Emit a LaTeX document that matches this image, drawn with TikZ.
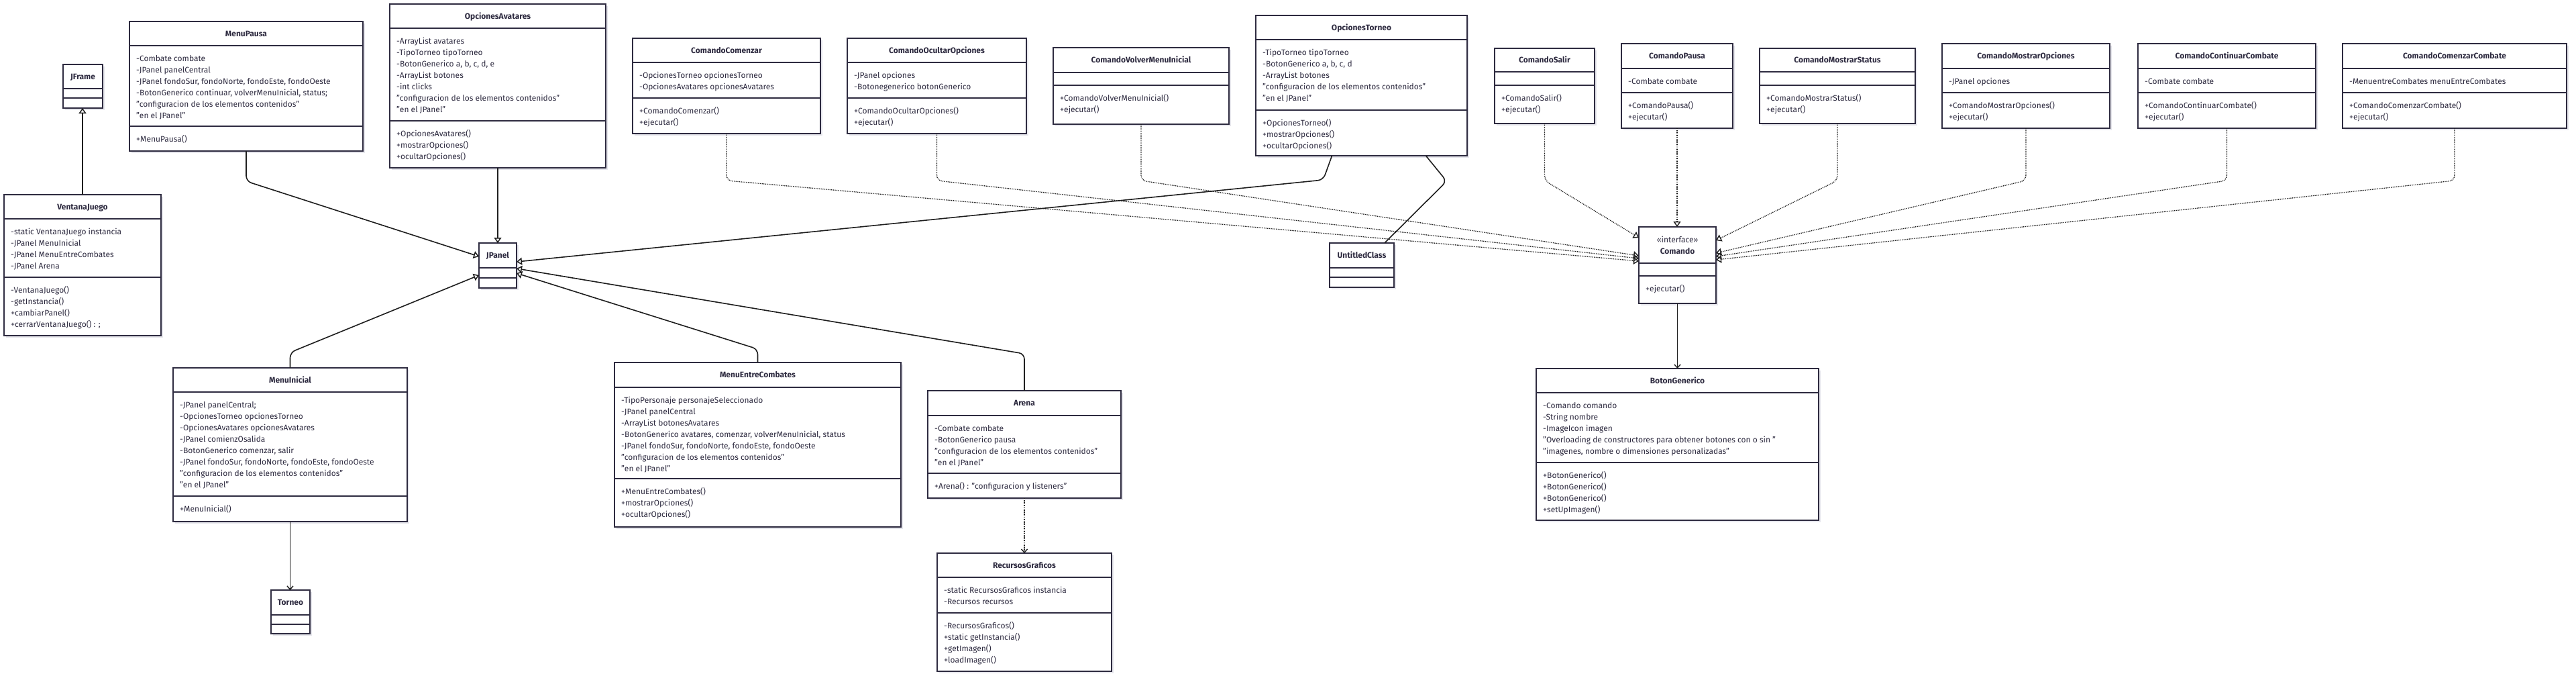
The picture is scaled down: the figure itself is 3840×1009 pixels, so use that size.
\documentclass[tikz,border=0pt]{standalone}
\usepackage{fontspec}
\setmainfont{Fira Sans}
\usetikzlibrary{arrows.meta,calc}
\definecolor{bord}{HTML}{2E2B40}
\definecolor{txtc}{HTML}{2E2B40}
\definecolor{shad}{HTML}{E6E6EC}
\tikzset{
  box/.style={draw=bord, line width=1.8pt, fill=white, inner sep=0pt, outer sep=0pt},
  div/.style={draw=bord, line width=1.8pt},
  txt/.style={font=\fontsize{12}{14}\selectfont, text=txtc, inner sep=0pt, anchor=base west},
  ttl/.style={font=\fontsize{12}{14}\selectfont\bfseries, text=txtc, inner sep=0pt, anchor=base},
  conn/.style={draw=black!88, line width=1.6pt, rounded corners=8pt},
  inh/.style={conn, -{Triangle[open, length=8pt, width=11pt, line width=1.5pt]}},
  real/.style={conn, line width=1.3pt, dash pattern=on 1.3pt off 1.3pt, -{Triangle[open, length=8pt, width=11pt, line width=1.4pt]}},
  assoc/.style={conn, -{Straight Barb[length=5pt, width=9pt, line width=1.4pt]}},
  dep/.style={assoc, line width=1.3pt, dash pattern=on 1.3pt off 1.3pt},
}
\newcommand\umlbox[7]{%
  \def\un{#1}\def\ux{#2}\def\uyA{#5}\def\uyB{#6}%
  \fill[shad] ({#2+3},{#4+3}) rectangle ({#3+3},{#7+3});
  \node[box, minimum width={(#3-#2)*1pt}, minimum height={(#7-#4)*1pt}, anchor=north west] (#1) at (#2,#4) {};
  \draw[div] (#2,#5) -- (#3,#5) (#2,#6) -- (#3,#6);
}
\newcommand\umlclass[8]{\umlbox{#1}{#2}{#3}{#4}{#5}{#6}{#7}%
  \node[ttl] (#1-title) at ({(#2+#3)/2},{(#4+#5)/2+4}) {#8};}
\newcommand\attrs[1]{\foreach \ltext [count=\i] in {#1}{\node[txt] (\un-a\i) at ({\ux+10},{\uyA+23.5+17*(\i-1)}) {\ltext};}}
\newcommand\meths[1]{\foreach \ltext [count=\i] in {#1}{\node[txt] (\un-m\i) at ({\ux+10},{\uyB+23.5+17*(\i-1)}) {\ltext};}}
\begin{document}
\begin{tikzpicture}[x=1pt,y=-1pt]
\useasboundingbox (0,0) rectangle (3840,1009);
\fill[white] (0,0) rectangle (3840,1009);

\umlclass{JFrame}{94}{153}{96}{132}{146}{161}{JFrame}

\umlclass{MenuPausa}{193}{541}{32}{68}{188}{225}{MenuPausa}
\attrs{{-Combate combate},{-JPanel panelCentral},{-JPanel fondoSur, fondoNorte, fondoEste, fondoOeste},{-BotonGenerico continuar, volverMenuInicial, status;},{"configuracion de los elementos contenidos"},{"en el JPanel"}}
\meths{{+MenuPausa()}}

\umlclass{VentanaJuego}{6}{240}{290}{326}{413}{500}{VentanaJuego}
\attrs{{-static VentanaJuego instancia},{-JPanel MenuInicial},{-JPanel MenuEntreCombates},{-JPanel Arena}}
\meths{{-VentanaJuego()},{-getInstancia()},{+cambiarPanel()},{+cerrarVentanaJuego() : ;}}

\umlclass{OpcionesAvatares}{581}{903}{6}{42}{180}{250}{OpcionesAvatares}
\attrs{{-ArrayList avatares},{-TipoTorneo tipoTorneo},{-BotonGenerico a, b, c, d, e},{-ArrayList botones},{-int clicks},{"configuracion de los elementos contenidos"},{"en el JPanel"}}
\meths{{+OpcionesAvatares()},{+mostrarOpciones()},{+ocultarOpciones()}}

\umlclass{JPanel}{714}{770}{362}{399}{414}{429}{JPanel}

\umlclass{ComandoComenzar}{943}{1223}{57}{93}{146}{199}{ComandoComenzar}
\attrs{{-OpcionesTorneo opcionesTorneo},{-OpcionesAvatares opcionesAvatares}}
\meths{{+ComandoComenzar()},{+ejecutar()}}

\umlclass{ComandoOcultarOpciones}{1263}{1530}{57}{93}{146}{199}{ComandoOcultarOpciones}
\attrs{{-JPanel opciones},{-Botonegenerico botonGenerico}}
\meths{{+ComandoOcultarOpciones()},{+ejecutar()}}

\umlclass{ComandoVolverMenuInicial}{1570}{1832}{71}{108}{127}{185}{ComandoVolverMenuInicial}
\meths{{+ComandoVolverMenuInicial()},{+ejecutar()}}

\umlclass{OpcionesTorneo}{1872}{2187}{23}{59}{164}{232}{OpcionesTorneo}
\attrs{{-TipoTorneo tipoTorneo},{-BotonGenerico a, b, c, d},{-ArrayList botones},{"configuracion de los elementos contenidos"},{"en el JPanel"}}
\meths{{+OpcionesTorneo()},{+mostrarOpciones()},{+ocultarOpciones()}}

\umlclass{UntitledClass}{1982}{2078}{362}{399}{413}{428}{UntitledClass}

\umlclass{ComandoSalir}{2228}{2377}{72}{107}{127}{184}{ComandoSalir}
\meths{{+ComandoSalir()},{+ejecutar()}}

\umlclass{ComandoPausa}{2417}{2583}{65}{102}{138}{191}{ComandoPausa}
\attrs{{-Combate combate}}
\meths{{+ComandoPausa()},{+ejecutar()}}

\umlclass{ComandoMostrarStatus}{2623}{2855}{72}{107}{127}{184}{ComandoMostrarStatus}
\meths{{+ComandoMostrarStatus()},{+ejecutar()}}

\umlclass{ComandoMostrarOpciones}{2895}{3145}{65}{102}{138}{191}{ComandoMostrarOpciones}
\attrs{{-JPanel opciones}}
\meths{{+ComandoMostrarOpciones()},{+ejecutar()}}

\umlclass{ComandoContinuarCombate}{3187}{3452}{65}{102}{138}{191}{ComandoContinuarCombate}
\attrs{{-Combate combate}}
\meths{{+ComandoContinuarCombate()},{+ejecutar()}}

\umlclass{ComandoComenzarCombate}{3492}{3826}{65}{102}{138}{191}{ComandoComenzarCombate}
\attrs{{-MenuentreCombates menuEntreCombates}}
\meths{{+ComandoComenzarCombate()},{+ejecutar()}}

\umlbox{Comando}{2443}{2558}{338}{392}{411}{452}
\node[txt, anchor=base] (Comando-stereo) at (2500.5,361) {«interface»};
\node[ttl] (Comando-title) at (2500.5,378) {Comando};
\meths{{+ejecutar()}}

\umlclass{BotonGenerico}{2290}{2711}{549}{585}{689}{775}{BotonGenerico}
\attrs{{-Comando comando},{-String nombre},{-ImageIcon imagen},{"Overloading de constructores para obtener botones con o sin "},{"imagenes, nombre o dimensiones personalizadas"}}
\meths{{+BotonGenerico()},{+BotonGenerico()},{+BotonGenerico()},{+setUpImagen()}}

\umlclass{MenuInicial}{258}{607}{548}{584}{739}{777}{MenuInicial}
\attrs{{-JPanel panelCentral;},{-OpcionesTorneo opcionesTorneo},{-OpcionesAvatares opcionesAvatares},{-JPanel comienzOsalida},{-BotonGenerico comenzar, salir},{-JPanel fondoSur, fondoNorte, fondoEste, fondoOeste},{"configuracion de los elementos contenidos"},{"en el JPanel"}}
\meths{{+MenuInicial()}}

\umlclass{MenuEntreCombates}{916}{1343}{540}{577}{713}{785}{MenuEntreCombates}
\attrs{{-TipoPersonaje personajeSeleccionado},{-JPanel panelCentral},{-ArrayList botonesAvatares},{-BotonGenerico avatares, comenzar, volverMenuInicial, status},{-JPanel fondoSur, fondoNorte, fondoEste, fondoOeste},{"configuracion de los elementos contenidos"},{"en el JPanel"}}
\meths{{+MenuEntreCombates()},{+mostrarOpciones()},{+ocultarOpciones()}}

\umlclass{Arena}{1383}{1671}{582}{619}{705}{742}{Arena}
\attrs{{-Combate combate},{-BotonGenerico pausa},{"configuracion de los elementos contenidos"},{"en el JPanel"}}
\meths{{+Arena() : "configuracion y listeners"}}

\umlclass{RecursosGraficos}{1397}{1657}{824}{860}{913}{1000}{RecursosGraficos}
\attrs{{-static RecursosGraficos instancia},{-Recursos recursos}}
\meths{{-RecursosGraficos()},{+static getInstancia()},{+getImagen()},{+loadImagen()}}

\umlclass{Torneo}{404}{462}{879}{916}{930}{944}{Torneo}

% connectors
\coordinate (hy) at (0,269);
\draw[inh] (VentanaJuego.north) -- (VentanaJuego.north |- JFrame.south);
\draw[inh] (MenuPausa.south) -- ++(0,45) -- ($(JPanel.north west)+(0,20)$);
\draw[inh] (OpcionesAvatares.south) -- (JPanel.north);
\draw[inh] (MenuInicial.north) -- ++(0,-23) -- ($(JPanel.north west)+(0,48)$);
\draw[inh] ($(OpcionesTorneo.south)+(-44,0)$) -- ($(OpcionesTorneo.south)+(-57,36)$) -- ($(JPanel.north east)+(0,28)$);
\draw[inh] (Arena.north) -- ++(0,-55) -- ($(JPanel.north east)+(0,38)$);
\draw[inh] (MenuEntreCombates.north) -- ++(0,-20) -- ($(JPanel.north east)+(0,45)$);
\draw[conn] ($(OpcionesTorneo.south)+(96,0)$) -- ($(OpcionesTorneo.south)+(127,38)$) -- ($(UntitledClass.north)+(34,0)$);
\draw[assoc] (MenuInicial.south) -- (MenuInicial.south |- Torneo.north);
\draw[dep] (Arena.south) -- (RecursosGraficos.north);
\draw[assoc] (Comando.south) -- (BotonGenerico.north);

\draw[real] (ComandoComenzar.south) -- (ComandoComenzar.south |- hy) -- ($(Comando.north west)+(0,51)$);
\draw[real] (ComandoOcultarOpciones.south) -- (ComandoOcultarOpciones.south |- hy) -- ($(Comando.north west)+(0,47)$);
\draw[real] (ComandoVolverMenuInicial.south) -- (ComandoVolverMenuInicial.south |- hy) -- ($(Comando.north west)+(0,43)$);
\draw[real] (ComandoSalir.south) -- (ComandoSalir.south |- hy) -- ($(Comando.north west)+(0,16)$);
\draw[real] (ComandoPausa.south) -- (ComandoPausa.south |- Comando.north);
\draw[real] (ComandoMostrarStatus.south) -- (ComandoMostrarStatus.south |- hy) -- ($(Comando.north east)+(0,20)$);
\draw[real] (ComandoMostrarOpciones.south) -- (ComandoMostrarOpciones.south |- hy) -- ($(Comando.north east)+(0,39)$);
\draw[real] (ComandoContinuarCombate.south) -- (ComandoContinuarCombate.south |- hy) -- ($(Comando.north east)+(0,44)$);
\draw[real] (ComandoComenzarCombate.south) -- (ComandoComenzarCombate.south |- hy) -- ($(Comando.north east)+(0,49)$);
\end{tikzpicture}
\end{document}
